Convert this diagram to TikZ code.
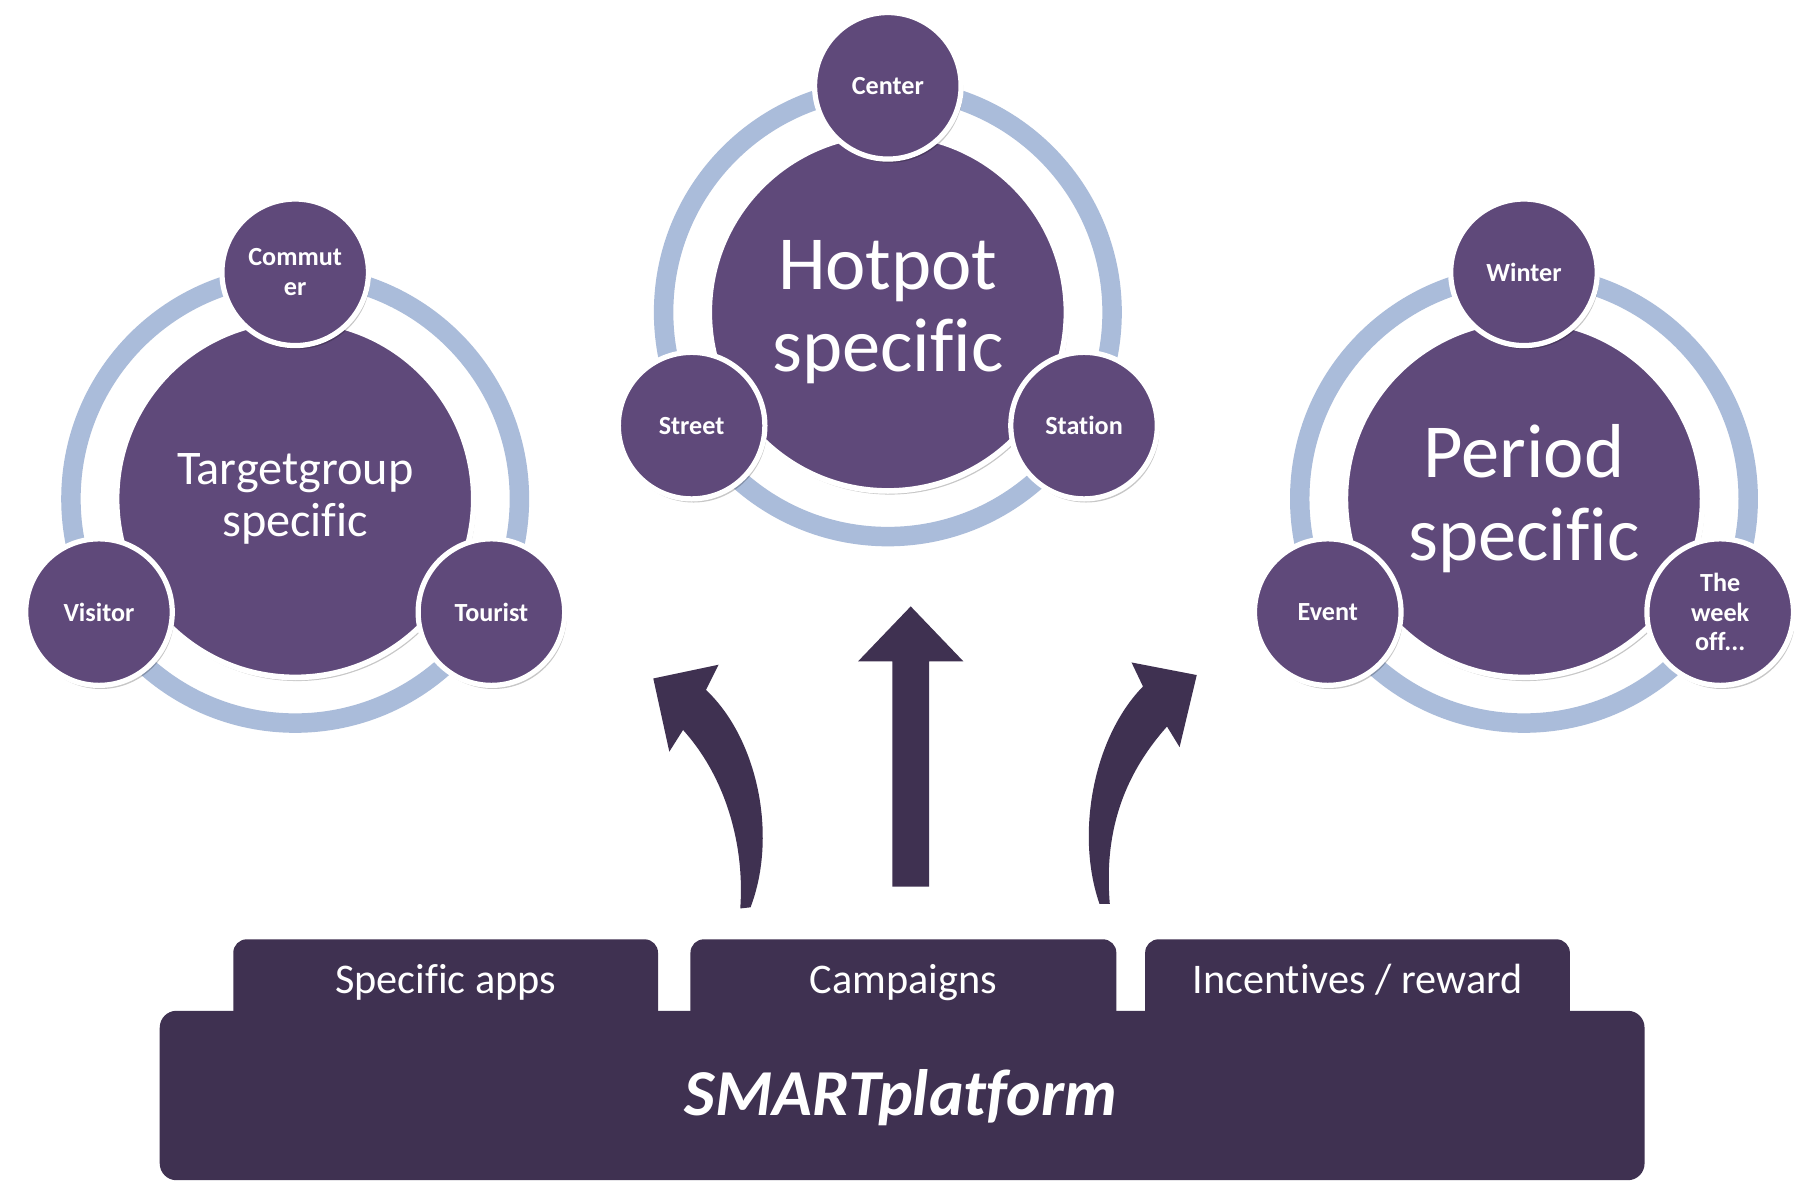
\documentclass[tikz,border=0pt]{standalone}
\usepackage{fontspec}
\setmainfont{Carlito}[Ligatures=NoCommon]
\usetikzlibrary{shadows}
\definecolor{circ}{HTML}{5F497A}
\definecolor{dark}{HTML}{3F3151}
\definecolor{ringc}{HTML}{AABCDA}
\begin{document}
\begin{tikzpicture}[x=0.01cm,y=-0.01cm,
  ringstyle/.style={draw=ringc, line width=0.17cm},
  shad/.style={drop shadow={shadow xshift=0.5pt, shadow yshift=-0.9pt, fill=black, opacity=0.22}},
  bigc/.style={circle, fill=circ, draw=white, line width=1.4pt, minimum size=3.12cm, inner sep=0pt, text=white, align=center, shad},
  smallc/.style={circle, fill=circ, draw=white, line width=1.3pt, minimum size=1.28cm, inner sep=0pt, text=white, align=center, shad, font=\fontsize{6.5}{7.4}\selectfont\bfseries},
  tabbox/.style={fill=dark, rounded corners=0.117cm, minimum width=3.71cm, minimum height=0.79cm, inner sep=0pt},
  tabtext/.style={text=white, anchor=base, font=\fontsize{10.5}{12}\selectfont},
  blockarrow/.style={fill=dark}]
\fill[white] (0,0) rectangle (1568,1033);
\useasboundingbox (0,0) rectangle (1568,1033);

% ---- Targetgroup group
\draw[ringstyle] (258,436) circle[radius=196];
\node[bigc, font=\fontsize{12}{13}\selectfont] (tg) at (258,436) {Targetgroup\\specific};
\node[smallc] (commuter) at (258,238) {Commut\\er};
\node[smallc] (visitor) at (86.5,535) {Visitor};
\node[smallc] (tourist) at (429.5,535) {Tourist};

% ---- Hotpot group
\draw[ringstyle] (776,273) circle[radius=196];
\node[bigc, font=\fontsize{19}{20.5}\selectfont] (hp) at (776,273) {Hotpot\\specific};
\node[smallc] (center) at (776,75) {Center};
\node[smallc] (street) at (604.5,372) {Street};
\node[smallc] (station) at (947.5,372) {Station};

% ---- Period group
\draw[ringstyle] (1332,436) circle[radius=196];
\node[bigc, font=\fontsize{19}{20.5}\selectfont] (ps) at (1332,436) {Period\\specific};
\node[smallc] (winter) at (1332,238) {Winter};
\node[smallc] (event) at (1160.5,535) {Event};
\node[smallc] (week) at (1503.5,535) {The\\week\\off...};

% ---- arrows
\fill[blockarrow] (571,593) -- (628,581) -- (617,603)
  .. controls (662,645) and (680,730) .. (656,793) -- (647,794)
  .. controls (651,740) and (635,680) .. (597,638) -- (585,657) -- cycle;
\fill[blockarrow] (780,775) -- (780,578) -- (750,578) -- (796,530) -- (842,578) -- (812,578) -- (812,775) -- cycle;
\fill[blockarrow] (1046,590) -- (1031,653) -- (1020,635)
  .. controls (980,680) and (965,730) .. (970,790) -- (961,790)
  .. controls (940,730) and (955,645) .. (999,600) -- (989,579) -- cycle;

% ---- platform
\node[tabbox] (tab1) at (389.5,860.5) {};
\node[tabbox, minimum width=3.72cm] (tab2) at (789.6,860.5) {};
\node[tabbox] (tab3) at (1186.5,860.5) {};
\node[fill=dark, rounded corners=0.146cm, minimum width=12.97cm, minimum height=1.48cm, inner sep=0pt] (platform) at (788.5,957.5) {};
\node[tabtext] (t1) at (389.5,868) {Specific apps};
\node[tabtext] (t2) at (789.6,868) {Campaigns};
\node[tabtext] (t3) at (1186.5,868) {Incentives / reward};
\node[text=white, anchor=base, font=\fontsize{16.3}{19}\selectfont\bfseries\itshape] (smart) at (787.5,975) {SMARTplatform};
\end{tikzpicture}
\end{document}
